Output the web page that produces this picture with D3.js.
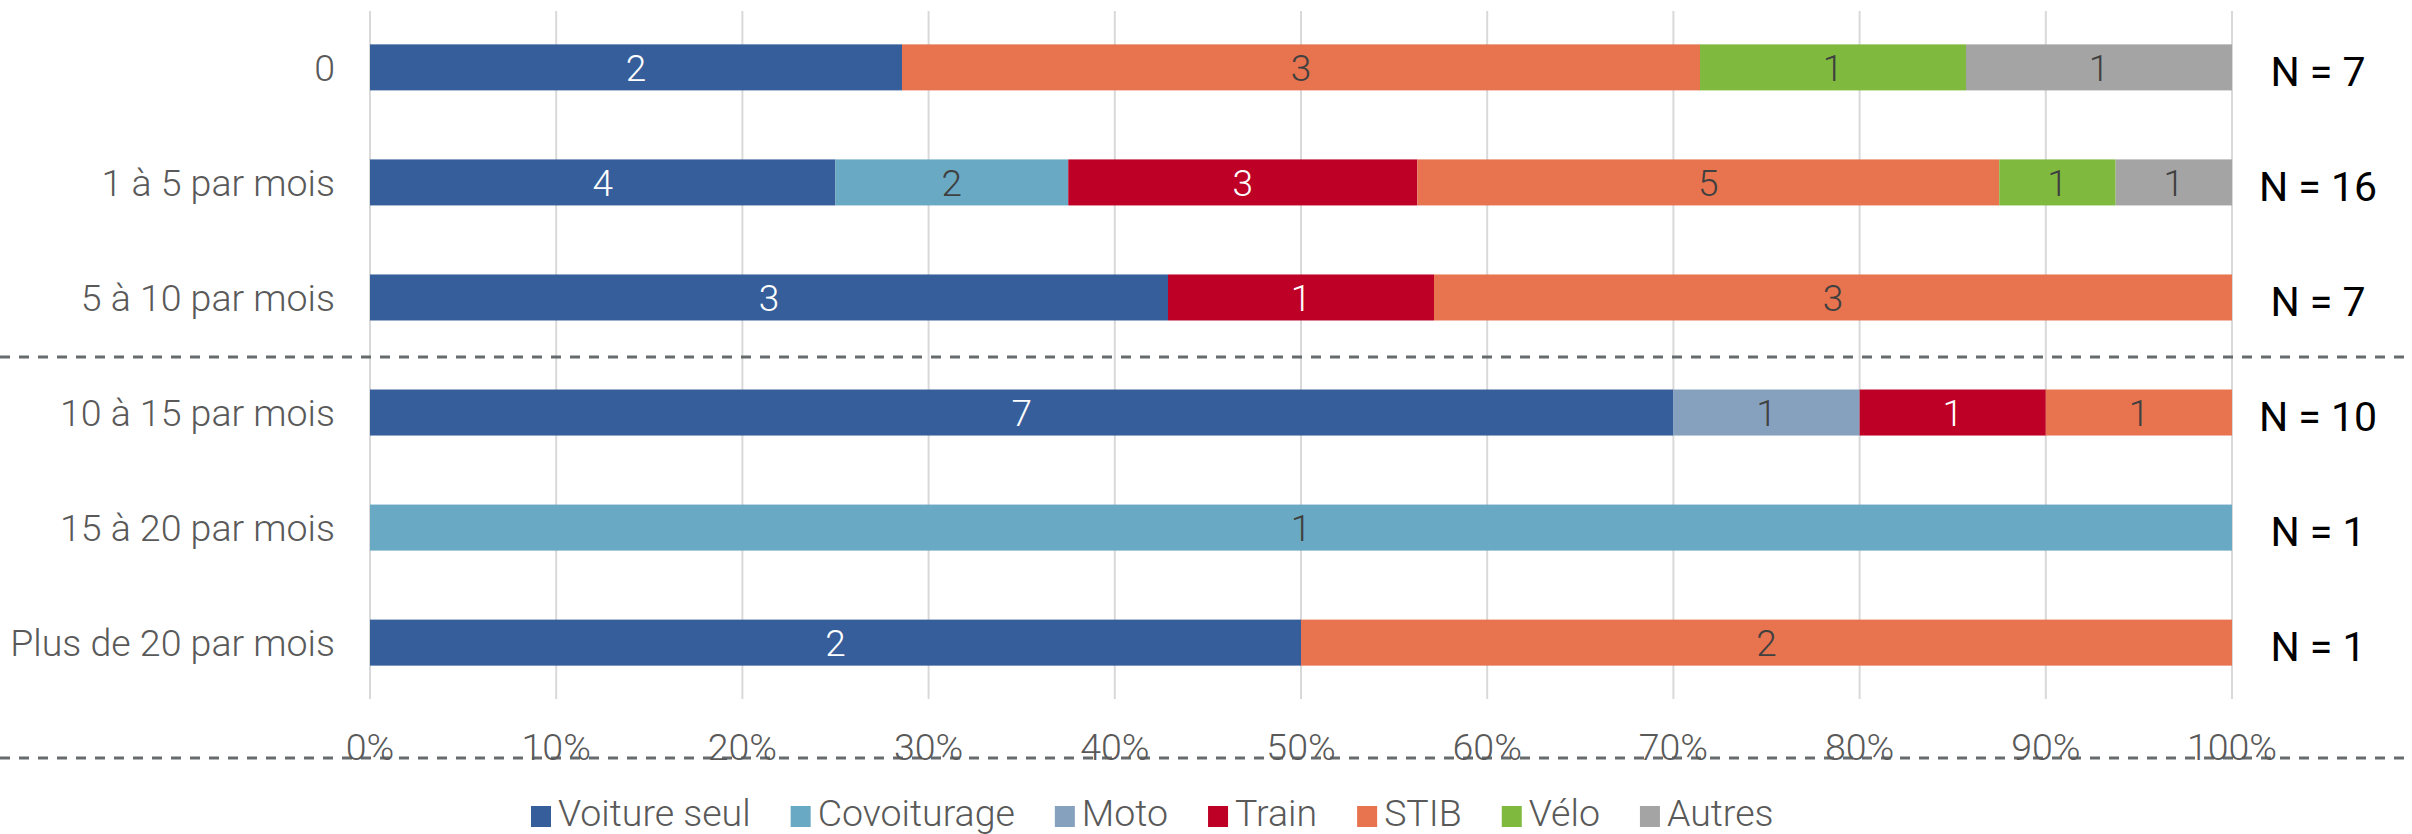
<!DOCTYPE html>
<meta charset="utf-8">
<style>
 body { margin: 0; background: white; }
 svg { display: block; font-family: 'Roboto', sans-serif; }
 .lbl { font-weight: 300; font-size: 37.5px; fill: #595959; }
 .val { font-weight: 300; font-size: 37px; }
 .n { font-weight: 400; font-size: 41px; fill: #000; }
</style>
<svg width="2412" height="834"></svg>
<script src="https://d3js.org/d3.v7.min.js"></script>
<script>
 // categories (top to bottom) and series
 var categories = ['0', '1 à 5 par mois', '5 à 10 par mois', '10 à 15 par mois', '15 à 20 par mois', 'Plus de 20 par mois'];
 var series = ['Voiture seul', 'Covoiturage', 'Moto', 'Train', 'STIB', 'Vélo', 'Autres'];
 var colors = ['#365e9b', '#6aa9c3', '#86a1be', '#be0027', '#e8744f', '#7fba3e', '#a3a4a3'];
 var labelColors = ['#fff', '#404040', '#404040', '#fff', '#404040', '#404040', '#404040'];

 var voitureSeul = [2, 4, 3, 7, 0, 2];
 var covoiturage = [0, 2, 0, 0, 1, 0];
 var moto        = [0, 0, 0, 1, 0, 0];
 var train       = [0, 3, 1, 1, 0, 0];
 var stib        = [3, 5, 3, 1, 0, 2];
 var velo        = [1, 1, 0, 0, 0, 0];
 var autres      = [1, 1, 0, 0, 0, 0];
 var nLabels = ['N = 7', 'N = 16', 'N = 7', 'N = 10', 'N = 1', 'N = 1'];
 var ticks = [0, 0.1, 0.2, 0.3, 0.4, 0.5, 0.6, 0.7, 0.8, 0.9, 1];

 var values = [voitureSeul, covoiturage, moto, train, stib, velo, autres];
 var rows = categories.map(function(c, i) {
     var r = { cat: c };
     series.forEach(function(s, j) { r[s] = values[j][i]; });
     return r;
 });

 var stacked = d3.stack().keys(series).offset(d3.stackOffsetExpand)(rows);

 var svg = d3.select('svg');
 var x = d3.scaleLinear().domain([0, 1]).range([370, 2232]);
 var y = d3.scaleBand().domain(categories).range([11, 699]).paddingInner(0.6).paddingOuter(0.29);

 // gridlines
 svg.append('g').selectAll('line').data(ticks).join('line')
     .attr('x1', d => x(d)).attr('x2', d => x(d))
     .attr('y1', 11).attr('y2', 699)
     .attr('stroke', '#d9d9d9').attr('stroke-width', 2);

 // bars
 var layer = svg.append('g').selectAll('g').data(stacked).join('g')
     .attr('fill', (d, i) => colors[i]);
 layer.selectAll('rect').data(d => d).join('rect')
     .attr('x', d => x(d[0]))
     .attr('width', d => x(d[1]) - x(d[0]))
     .attr('y', d => y(d.data.cat))
     .attr('height', y.bandwidth());

 // values inside segments
 stacked.forEach(function(s, i) {
     svg.append('g').selectAll('text').data(s.filter(d => d.data[s.key] > 0)).join('text')
         .attr('class', 'val')
         .attr('x', d => (x(d[0]) + x(d[1])) / 2)
         .attr('y', d => y(d.data.cat) + y.bandwidth() / 2)
         .attr('dy', '0.36em')
         .attr('text-anchor', 'middle')
         .attr('fill', labelColors[i])
         .text(d => d.data[s.key]);
 });

 // category labels
 svg.append('g').selectAll('text').data(categories).join('text')
     .attr('class', 'lbl')
     .attr('x', 335)
     .attr('y', d => y(d) + y.bandwidth() / 2)
     .attr('dy', '0.36em')
     .attr('text-anchor', 'end')
     .text(d => d);

 // N labels
 svg.append('g').selectAll('text').data(nLabels).join('text')
     .attr('class', 'n')
     .attr('x', 2318)
     .attr('y', (d, i) => y(categories[i]) + y.bandwidth() / 2 + 4)
     .attr('dy', '0.36em')
     .attr('text-anchor', 'middle')
     .text(d => d);

 // dashed separators
 var sepY = (y(categories[2]) + y.bandwidth() + y(categories[3])) / 2 + 2;
 [sepY, 758].forEach(function(yy) {
     svg.append('line')
         .attr('x1', 0).attr('x2', 2412)
         .attr('y1', yy).attr('y2', yy)
         .attr('stroke', '#666b6d').attr('stroke-width', 3)
         .attr('stroke-dasharray', '10,9');
 });

 // x tick labels
 svg.append('g').selectAll('text').data(ticks).join('text')
     .attr('class', 'lbl')
     .attr('x', d => x(d))
     .attr('y', 760)
     .attr('text-anchor', 'middle')
     .text(d3.format('.0%'));

 // legend
 var lx = 531;
 series.forEach(function(s, i) {
     svg.append('rect').attr('x', lx).attr('y', 806).attr('width', 20).attr('height', 21)
         .attr('fill', colors[i]);
     var t = svg.append('text').attr('class', 'lbl')
         .attr('x', lx + 27).attr('y', 826).text(s);
     lx += 27 + t.node().getComputedTextLength() + 40;
 });
</script>
